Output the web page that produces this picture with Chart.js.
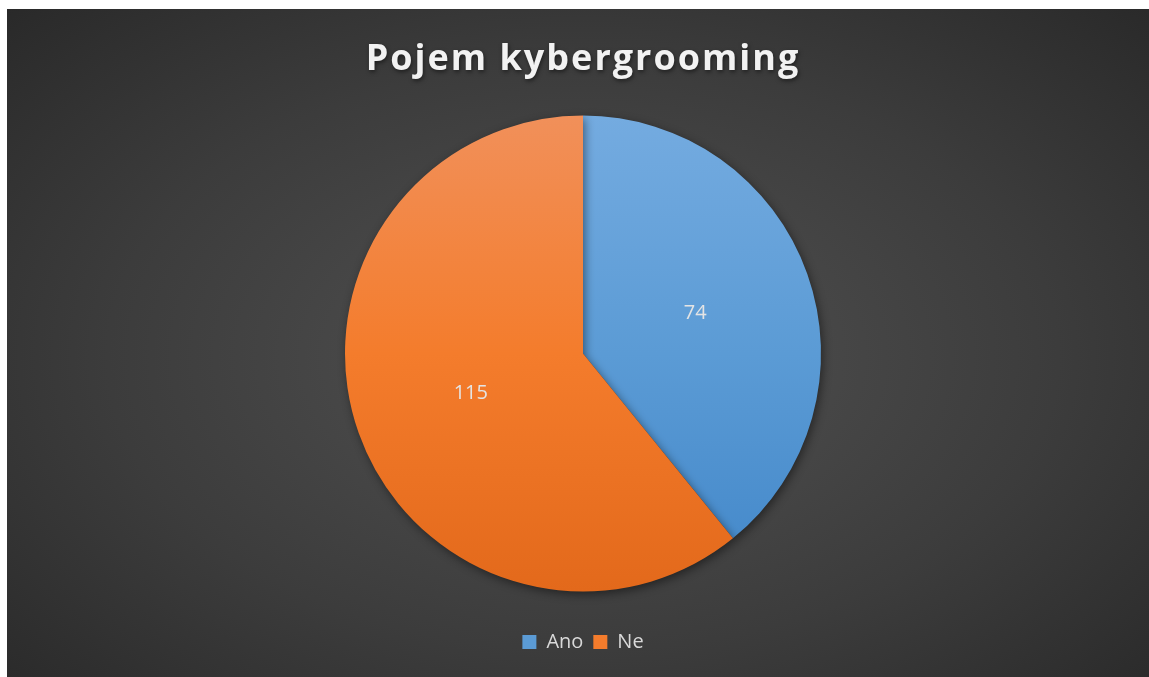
<!DOCTYPE html>
<html>
<head>
<meta charset="utf-8">
<script src="https://cdn.jsdelivr.net/npm/chart.js@4.4.1/dist/chart.umd.min.js"></script>
<style>
  body { margin: 0; background: #fff; width: 1149px; height: 677px; overflow: hidden; position: relative; }
  #wrap {
    position: absolute; left: 7px; top: 9px; width: 1152px; height: 668px;
    background: radial-gradient(ellipse 75% 80% at 50% 52%, #525252 0%, #3c3c3c 55%, #262626 100%);
  }
</style>
</head>
<body>
<div id="wrap"><canvas id="chart"></canvas></div>
<script>
const chartTitle = "Pojem kybergrooming";
const categories = ["Ano", "Ne"];
const answers = [74, 115];
const topColors = ["#74abe0", "#f1905a"];
const midColors = ["#5b9bd5", "#f47c2c"];
const bottomColors = ["#4287c9", "#e3691b"];
const pieRadius = 238;

// vertical gradient over the pie, like the office chart style
function sliceColor(ctx) {
  const chart = ctx.chart;
  const area = chart.chartArea;
  if (!area || !isFinite(area.top) || !isFinite(area.bottom)) return midColors[ctx.dataIndex];
  const cy = (area.top + area.bottom) / 2;
  const g = chart.ctx.createLinearGradient(0, cy - pieRadius, 0, cy + pieRadius);
  g.addColorStop(0, topColors[ctx.dataIndex]);
  g.addColorStop(0.5, midColors[ctx.dataIndex]);
  g.addColorStop(1, bottomColors[ctx.dataIndex]);
  return g;
}

const shadowPlugin = {
  id: "pieShadow",
  beforeDatasetsDraw(chart) {
    const c = chart.ctx;
    c.save();
    c.shadowColor = "rgba(0,0,0,0.45)";
    c.shadowBlur = 10;
    c.shadowOffsetX = 2;
    c.shadowOffsetY = 3;
  },
  afterDatasetsDraw(chart) {
    chart.ctx.restore();
  }
};

const valueLabels = {
  id: "valueLabels",
  afterDatasetsDraw(chart) {
    const c = chart.ctx;
    c.save();
    c.fillStyle = "#e4e4e4";
    c.font = "20px 'Open Sans'";
    c.textAlign = "center";
    c.textBaseline = "middle";
    chart.getDatasetMeta(0).data.forEach((arc, i) => {
      const p = arc.tooltipPosition();
      c.fillText(String(answers[i]), p.x, p.y);
    });
    c.restore();
  }
};

const titlePlugin = {
  id: "bigTitle",
  afterDraw(chart) {
    const c = chart.ctx;
    c.save();
    c.font = "bold 36px 'Open Sans'";
    c.letterSpacing = "2px";
    c.fillStyle = "#f2f2f2";
    c.textAlign = "center";
    c.textBaseline = "middle";
    c.shadowColor = "rgba(0,0,0,0.5)";
    c.shadowBlur = 4;
    c.shadowOffsetX = 1;
    c.shadowOffsetY = 2;
    c.fillText(chartTitle, chart.width / 2, 51);
    c.restore();
  }
};

new Chart(document.getElementById("chart"), {
  type: "pie",
  data: {
    labels: categories,
    datasets: [{
      data: answers,
      backgroundColor: sliceColor,
      borderWidth: 0
    }]
  },
  options: {
    responsive: true,
    maintainAspectRatio: false,
    animation: false,
    radius: pieRadius,
    layout: { padding: { top: 76, bottom: 15 } },
    plugins: {
      legend: {
        position: "bottom",
        labels: {
          color: "#d9d9d9",
          boxWidth: 14,
          boxHeight: 14,
          font: { family: "'Open Sans'", size: 20 },
          generateLabels(chart) {
            return categories.map((name, i) => ({
              text: name,
              fillStyle: midColors[i],
              strokeStyle: midColors[i],
              lineWidth: 0,
              fontColor: "#d9d9d9",
              hidden: false,
              index: i
            }));
          }
        }
      },
      tooltip: { enabled: false }
    }
  },
  plugins: [shadowPlugin, valueLabels, titlePlugin]
});
</script>
</body>
</html>
